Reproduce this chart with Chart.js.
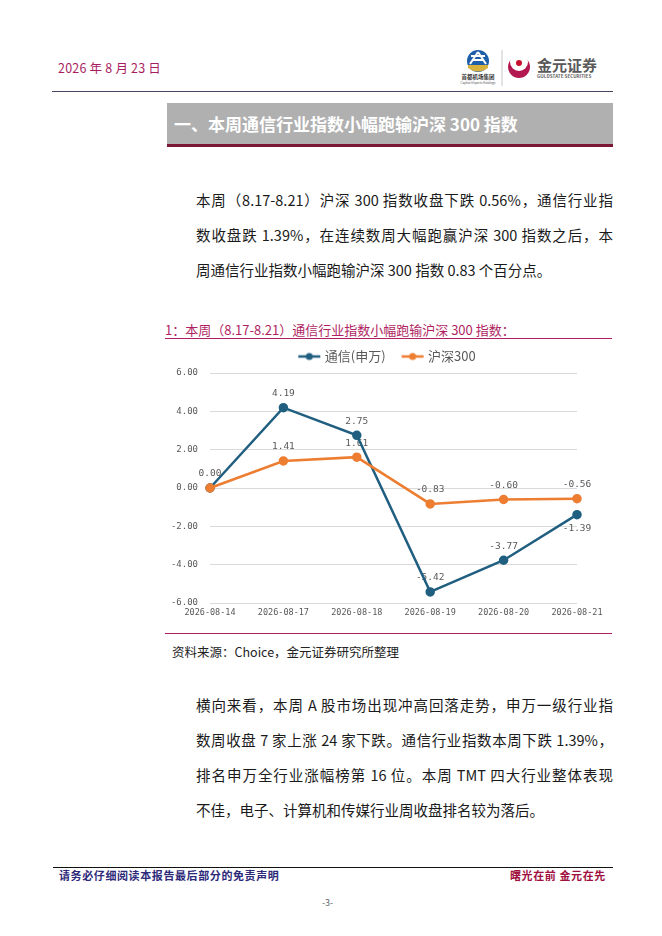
<!DOCTYPE html>
<html><head><meta charset="utf-8">
<script src="https://cdn.jsdelivr.net/npm/chart.js@4.4.0/dist/chart.umd.min.js"></script>
<style>
html,body{margin:0;padding:0;background:#fff;}
body{width:662px;height:936px;position:relative;overflow:hidden;font-family:"Noto Sans CJK SC","Noto Sans",sans-serif;}
.abs{position:absolute;white-space:nowrap;}
.line{position:absolute;left:196px;width:417px;font-size:14.5px;line-height:20px;height:20px;color:#1a1a1a;white-space:nowrap;}
.j{text-align:justify;text-align-last:justify;}
.hr{position:absolute;height:0;}
</style></head><body>

<div class="abs" style="left:58px;top:59px;font-size:12.5px;line-height:18px;color:#a81d5e;letter-spacing:0.2px;">2026 年 8 月 23 日</div>

<svg class="abs" style="left:455px;top:44px;" width="160" height="44" viewBox="0 0 160 44">
  <circle cx="23" cy="17" r="11" fill="#1f5ea8"/>
  <path d="M13 21 L33 21 L33 24 Q23 31 13 24 Z" fill="#d9b23c"/>
  <path d="M16 12 L30 12 M23 8 L15 20 M23 8 L31 20 M18 16 L28 16" stroke="#fff" stroke-width="2" fill="none"/>
  <text x="23" y="35" font-size="5.5" font-weight="bold" text-anchor="middle" fill="#333">首都机场集团</text>
  <text x="23" y="40" font-size="3" text-anchor="middle" fill="#555">Capital Airports Holdings</text>
  <line x1="47" y1="6" x2="47" y2="42" stroke="#c8c8c8" stroke-width="1"/>
  <circle cx="64" cy="23" r="11" fill="#b3174f"/>
  <circle cx="64" cy="18" r="9" fill="#fff"/>
  <circle cx="64" cy="19" r="3" fill="#c8102e"/>
  <text x="82" y="27" font-size="15" font-weight="bold" fill="#5a5a5a">金元证券</text>
  <text x="82" y="34" font-size="4.6" font-weight="bold" fill="#666">GOLDSTATE SECURITIES</text>
</svg>

<div class="hr" style="left:52px;top:91px;width:561px;border-top:1.5px solid #4a4463;"></div>

<div class="abs" style="left:167px;top:103px;width:446px;height:41px;background:#b0b0b0;border-bottom:3px solid #7b1735;"></div>
<div class="abs" style="left:174px;top:103px;height:41px;line-height:41px;font-size:17px;font-weight:bold;color:#fff;">一、本周通信行业指数小幅跑输沪深 300 指数</div>

<div class="line j" style="top:190px;">本周（8.17-8.21）沪深 300 指数收盘下跌 0.56%，通信行业指</div>
<div class="line j" style="top:225px;">数收盘跌 1.39%，在连续数周大幅跑赢沪深 300 指数之后，本</div>
<div class="line" style="top:260px;">周通信行业指数小幅跑输沪深 300 指数 0.83 个百分点。</div>

<div class="abs" style="left:165px;top:321px;font-size:13px;line-height:18px;color:#b01f63;">1：本周（8.17-8.21）通信行业指数小幅跑输沪深 300 指数：</div>
<div class="hr" style="left:165px;top:338px;width:447px;border-top:1.5px solid #b01f63;"></div>

<div class="abs" style="left:164px;top:332px;width:448px;height:291px;"><canvas id="c"></canvas></div>

<div class="hr" style="left:165px;top:633px;width:447px;border-top:1.5px solid #b01f63;"></div>
<div class="abs" style="left:172px;top:643px;font-size:12.5px;line-height:18px;color:#222;">资料来源：Choice，金元证券研究所整理</div>

<div class="line j" style="top:695px;">横向来看，本周 A 股市场出现冲高回落走势，申万一级行业指</div>
<div class="line j" style="top:730px;">数周收盘 7 家上涨 24 家下跌。通信行业指数本周下跌 1.39%，</div>
<div class="line j" style="top:765px;">排名申万全行业涨幅榜第 16 位。本周 TMT 四大行业整体表现</div>
<div class="line" style="top:800px;">不佳，电子、计算机和传媒行业周收盘排名较为落后。</div>

<div class="hr" style="left:53px;top:867px;width:560px;border-top:1.5px solid #111;"></div>
<div class="abs" style="left:59px;top:868px;font-size:11px;line-height:15px;font-weight:bold;color:#2d2a7a;letter-spacing:0.6px;">请务必仔细阅读本报告最后部分的免责声明</div>
<div class="abs" style="left:510px;top:868px;font-size:11px;line-height:15px;font-weight:bold;color:#a0103f;letter-spacing:0.6px;">曙光在前 金元在先</div>
<div class="abs" style="left:322px;top:897px;font-size:9px;line-height:12px;color:#666;">-3-</div>

<script>
const categories = ['2026-08-14', '2026-08-17', '2026-08-18', '2026-08-19', '2026-08-20', '2026-08-21'];
const seriesNames = ['通信(申万)', '沪深300'];
const telecomValues = [0.00, 4.19, 2.75, -5.42, -3.77, -1.39];
const hs300Values = [0.00, 1.41, 1.61, -0.83, -0.60, -0.56];
const telecomLabelBelow = [false, false, false, false, false, true];
const hs300LabelBelow = [false, false, false, false, false, false];
const yMin = -6, yMax = 6, yStep = 2;

const BLUE = '#215f80', ORANGE = '#ed7d31', GRAY = '#595959';

function legendMarker(color) {
  const c = document.createElement('canvas');
  c.width = 24; c.height = 10;
  const g = c.getContext('2d');
  g.strokeStyle = color; g.lineWidth = 2.5;
  g.beginPath(); g.moveTo(1, 5); g.lineTo(23, 5); g.stroke();
  g.fillStyle = color; g.beginPath(); g.arc(12, 5, 3.5, 0, Math.PI * 2); g.fill();
  return c;
}

const valueLabels = {
  id: 'valueLabels',
  beforeDatasetsDraw(chart) {
    const ctx = chart.ctx;
    ctx.save();
    ctx.font = '9.5px "DejaVu Sans Mono", monospace';
    ctx.fillStyle = GRAY;
    ctx.textAlign = 'center';
    ctx.textBaseline = 'middle';
    const drawn = new Set();
    chart.data.datasets.forEach((ds, di) => {
      const meta = chart.getDatasetMeta(di);
      meta.data.forEach((pt, i) => {
        const below = ds.labelBelow && ds.labelBelow[i];
        const txt = ds.data[i].toFixed(2);
        const x = pt.x, y = pt.y + (below ? 14 : -14);
        const key = txt + '@' + Math.round(x) + ',' + Math.round(y);
        if (drawn.has(key)) return;
        drawn.add(key);
        ctx.fillText(txt, x, y);
      });
    });
    ctx.restore();
  }
};

const markers = [legendMarker(BLUE), legendMarker(ORANGE)];

new Chart(document.getElementById('c'), {
  type: 'line',
  data: {
    labels: categories,
    datasets: [
      { label: seriesNames[0], data: telecomValues, labelBelow: telecomLabelBelow, borderColor: BLUE, backgroundColor: BLUE,
        borderWidth: 2.5, pointRadius: 3.5, pointBackgroundColor: BLUE, pointBorderColor: BLUE, tension: 0, order: 1 },
      { label: seriesNames[1], data: hs300Values, labelBelow: hs300LabelBelow, borderColor: ORANGE, backgroundColor: ORANGE,
        borderWidth: 2.5, pointRadius: 3.5, pointBackgroundColor: ORANGE, pointBorderColor: ORANGE, tension: 0, order: 0 }
    ]
  },
  options: {
    responsive: true,
    maintainAspectRatio: false,
    animation: false,
    layout: { padding: { left: 0, right: 0, top: 0, bottom: 0 } },
    plugins: {
      tooltip: { enabled: false },
      legend: {
        display: true,
        position: 'top',
        labels: {
          usePointStyle: true,
          pointStyleWidth: 18,
          padding: 18,
          color: GRAY,
          font: { family: '"Noto Sans CJK SC", sans-serif', size: 13 },
          generateLabels: (chart) => chart.data.datasets.map((ds, i) => ({
            text: ds.label, pointStyle: markers[i], fillStyle: ds.borderColor, strokeStyle: ds.borderColor,
            lineWidth: 0, hidden: false, datasetIndex: i, fontColor: GRAY
          }))
        }
      }
    },
    scales: {
      x: {
        offset: false,
        grid: { display: false, drawTicks: false },
        border: { display: false },
        ticks: { color: GRAY, font: { family: '"DejaVu Sans Mono", monospace', size: 8.5 }, padding: 5, maxRotation: 0, autoSkip: false },
        afterFit: (s) => { s.height = 20; s.paddingLeft = 0; s.paddingRight = 35; }
      },
      y: {
        min: yMin, max: yMax,
        grid: { color: '#d9d9d9', lineWidth: 1, drawTicks: false },
        border: { display: false },
        ticks: { stepSize: yStep, color: GRAY, padding: 12, font: { family: '"DejaVu Sans Mono", monospace', size: 9 },
          callback: (v) => Number(v).toFixed(2) },
        afterFit: (s) => { s.width = 46; }
      }
    }
  },
  plugins: [valueLabels]
});
</script>
</body></html>
